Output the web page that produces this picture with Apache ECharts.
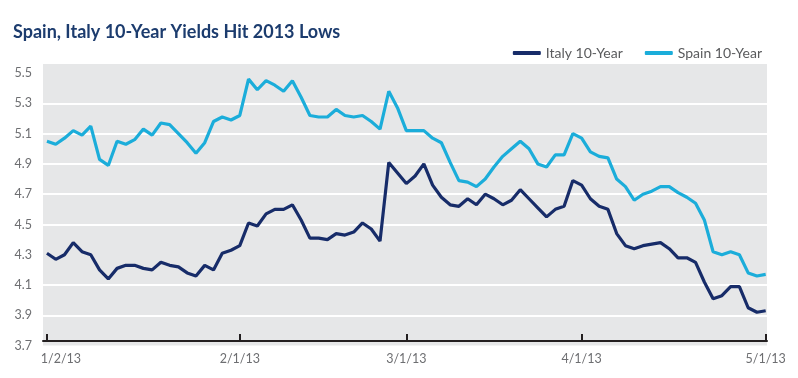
<!DOCTYPE html>
<html>
<head>
<meta charset="utf-8">
<script src="https://cdn.jsdelivr.net/npm/echarts@6/dist/echarts.min.js"></script>
<style>
html,body{margin:0;padding:0;background:#fff;}
#chart{width:798px;height:378px;}
</style>
</head>
<body>
<div id="chart"></div>
<script>
const titleText = 'Spain, Italy 10-Year Yields Hit 2013 Lows';
const seriesNames = ['Italy 10-Year', 'Spain 10-Year'];
const tickLabels = ['1/2/13', '2/1/13', '3/1/13', '4/1/13', '5/1/13'];
const tickIndex = [0, 22, 41, 61, 82];
const italy = [
  4.31, 4.27, 4.30, 4.38, 4.32, 4.30, 4.20, 4.14, 4.21, 4.23, 4.23, 4.21, 4.20, 4.25,
  4.23, 4.22, 4.18, 4.16, 4.23, 4.20, 4.31, 4.33, 4.36, 4.51, 4.49, 4.57, 4.60,
  4.60, 4.63, 4.53, 4.41, 4.41, 4.40, 4.44, 4.43, 4.45, 4.51, 4.47, 4.39, 4.91, 4.84,
  4.77, 4.82, 4.90, 4.76, 4.68, 4.63, 4.62, 4.67, 4.63, 4.70, 4.67, 4.63, 4.66, 4.73,
  4.67, 4.61, 4.55, 4.60, 4.62, 4.79, 4.76, 4.67, 4.62, 4.60, 4.44, 4.36, 4.34, 4.36,
  4.37, 4.38, 4.34, 4.28, 4.28, 4.25, 4.12, 4.01, 4.03, 4.09, 4.09, 3.95, 3.92, 3.93
];
const spain = [
  5.05, 5.03, 5.07, 5.12, 5.09, 5.15, 4.93, 4.89, 5.05, 5.03, 5.06, 5.13, 5.09, 5.17,
  5.16, 5.10, 5.04, 4.97, 5.04, 5.18, 5.21, 5.19, 5.22, 5.46, 5.39, 5.45, 5.42,
  5.38, 5.45, 5.34, 5.22, 5.21, 5.21, 5.26, 5.22, 5.21, 5.22, 5.18, 5.13, 5.38, 5.27,
  5.12, 5.12, 5.12, 5.07, 5.04, 4.91, 4.79, 4.78, 4.75, 4.80, 4.88, 4.95, 5.00, 5.05,
  5.00, 4.90, 4.88, 4.96, 4.96, 5.10, 5.07, 4.98, 4.95, 4.94, 4.80, 4.75, 4.66, 4.70,
  4.72, 4.75, 4.75, 4.71, 4.68, 4.64, 4.53, 4.32, 4.30, 4.32, 4.30, 4.18, 4.16, 4.17
];

const FONT = 'Lato';
const labelColor = '#6d6e71';
const T = 'rgba(0,0,0,0)';
const chart = echarts.init(document.getElementById('chart'), null, {renderer: 'canvas'});
chart.setOption({
  animation: false,
  backgroundColor: '#ffffff',
  textStyle: {fontFamily: FONT},
  title: {
    text: titleText, left: 8, top: 18,
    textStyle: {fontFamily: FONT, fontWeight: 'bold', fontSize: 18, color: '#1c3c6e'}
  },
  legend: {
    data: seriesNames, right: 31, top: 41, itemWidth: 28, itemHeight: 4, itemGap: 22,
    icon: 'roundRect',
    textStyle: {fontFamily: FONT, fontSize: 14, color: '#5a5b5d'}
  },
  grid: {left: 43, right: 31, top: 64, bottom: 32.4, show: true, backgroundColor: '#e6e7e8', borderWidth: 0},
  xAxis: {
    type: 'value', min: -0.45, max: 82.15, offset: -4.6,
    axisLine: {lineStyle: {color: '#231f20', width: 2}},
    axisTick: {customValues: tickIndex, inside: true, length: 7, lineStyle: {color: '#231f20', width: 2}},
    axisLabel: {
      customValues: tickIndex, margin: 11, color: labelColor, fontSize: 12.5, fontFamily: FONT,
      formatter: function (v) {
        const k = tickIndex.indexOf(v);
        if (k < 0) return '';
        return k === 0 ? '{first|' + tickLabels[k] + '}' : tickLabels[k];
      },
      rich: {first: {padding: [0, 0, 0, 28], color: labelColor, fontSize: 12.5, fontFamily: FONT}}
    },
    splitLine: {show: false}
  },
  yAxis: {
    type: 'value', min: 3.7, max: 5.56, interval: 0.2,
    axisLine: {show: false}, axisTick: {show: false},
    axisLabel: {margin: 11, color: labelColor, fontSize: 12.5, fontFamily: FONT, showMaxLabel: false,
      formatter: function (v) { return v.toFixed(1); }},
    splitLine: {lineStyle: {width: 2, color: [T, '#fff', '#fff', T, '#fff', '#fff', '#fff', '#fff', '#fff', T, T]}}
  },
  series: [
    {name: seriesNames[0], type: 'line', showSymbol: false, symbol: 'none',
     data: italy.map(function (v, i) { return [i, v]; }),
     lineStyle: {width: 3.2, color: '#172c69'}, itemStyle: {color: '#172c69'}},
    {name: seriesNames[1], type: 'line', showSymbol: false, symbol: 'none',
     data: spain.map(function (v, i) { return [i, v]; }),
     lineStyle: {width: 3.2, color: '#1badda'}, itemStyle: {color: '#1badda'}}
  ]
});
</script>
</body>
</html>
